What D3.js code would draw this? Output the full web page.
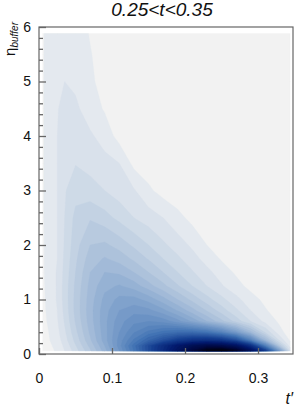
<!DOCTYPE html>
<html>
<head>
<meta charset="utf-8">
<style>
body { margin: 0; background: #fff; }
svg text { font-family: "Liberation Sans", Arial, sans-serif; }
</style>
</head>
<body>
<div id="chart"></div>
<script src="https://d3js.org/d3.v7.min.js"></script>
<script>

// bin centres of the grid (t' columns, eta rows, bottom to top)
var tPrime = [0.005, 0.015, 0.025, 0.035, 0.05, 0.07, 0.09, 0.11, 0.13, 0.15,
              0.17, 0.19, 0.21, 0.23, 0.25, 0.27, 0.29, 0.31, 0.33, 0.344];
var etaRows = [0.06, 0.15, 0.25, 0.4, 0.6, 0.8, 1.0, 1.25, 1.5, 1.75,
               2.0, 2.5, 3.0, 3.5, 4.0, 4.5, 5.0, 5.5, 5.88];

// density in contour-level units (0..40), one row per eta value
var density = [
  [0.3, 0.7, 1.2, 2.0, 3.5, 5.8, 8.5, 12.0, 16.0, 21.0, 26.0, 31.0, 35.5, 39.0, 40.0, 37.5, 32.0, 23.0, 11.0, 3.0],
  [0.35, 0.85, 1.35, 2.2, 3.9, 6.3, 9.0, 12.5, 16.5, 21.0, 25.5, 29.5, 32.5, 34.0, 33.5, 31.0, 25.0, 15.0, 5.5, 1.5],
  [0.4, 1.0, 1.5, 2.5, 4.3, 6.8, 9.5, 12.4, 15.2, 18.0, 20.5, 23.0, 24.5, 25.0, 24.0, 21.0, 15.0, 8.0, 2.8, 0.9],
  [0.5, 1.1, 1.7, 2.8, 4.7, 7.2, 9.6, 12.0, 13.9, 15.3, 16.4, 17.0, 17.0, 16.2, 14.3, 11.2, 7.5, 3.9, 1.3, 0.5],
  [0.6, 1.3, 1.9, 3.1, 5.1, 7.5, 9.7, 11.6, 12.7, 13.0, 12.6, 11.4, 9.8, 8.0, 6.3, 4.6, 3.0, 1.7, 0.8, 0.3],
  [0.7, 1.4, 2.0, 3.3, 5.3, 7.6, 9.6, 11.0, 11.6, 11.3, 10.3, 8.9, 7.4, 5.9, 4.5, 3.2, 2.0, 1.1, 0.45, 0.15],
  [0.75, 1.45, 2.1, 3.4, 5.3, 7.5, 9.3, 10.3, 10.4, 9.6, 8.4, 7.0, 5.7, 4.4, 3.3, 2.3, 1.4, 0.75, 0.3, 0.1],
  [0.8, 1.5, 2.1, 3.4, 5.2, 7.3, 8.7, 9.1, 8.5, 7.4, 6.3, 5.1, 4.0, 3.0, 2.1, 1.35, 0.7, 0.3, 0.12, 0.05],
  [0.85, 1.5, 2.1, 3.3, 5.0, 7.0, 8.0, 7.8, 7.0, 6.0, 5.0, 4.0, 3.1, 2.3, 1.5, 0.85, 0.45, 0.2, 0.08, 0.03],
  [0.85, 1.5, 2.0, 3.2, 4.8, 6.5, 7.1, 6.6, 5.8, 4.9, 4.0, 3.2, 2.4, 1.6, 0.9, 0.5, 0.25, 0.12, 0.05, 0.02],
  [0.85, 1.5, 2.0, 3.1, 4.6, 6.0, 6.2, 5.6, 4.8, 4.0, 3.2, 2.5, 1.8, 1.0, 0.55, 0.3, 0.15, 0.07, 0.03, 0.01],
  [0.9, 1.5, 2.0, 3.0, 4.3, 4.9, 4.4, 3.7, 3.0, 2.5, 2.0, 1.3, 0.7, 0.4, 0.22, 0.12, 0.06, 0.03, 0.01, 0],
  [0.9, 1.5, 2.0, 2.9, 3.6, 3.4, 3.0, 2.5, 2.1, 1.2, 0.6, 0.35, 0.2, 0.12, 0.07, 0.04, 0.02, 0.01, 0, 0],
  [0.9, 1.5, 2.0, 2.7, 2.95, 2.65, 2.3, 2.0, 0.7, 0.4, 0.25, 0.15, 0.09, 0.05, 0.03, 0.02, 0.01, 0, 0, 0],
  [0.9, 1.5, 2.0, 2.5, 2.6, 2.15, 1.6, 0.6, 0.35, 0.22, 0.14, 0.08, 0.05, 0.03, 0.02, 0.01, 0, 0, 0, 0],
  [0.9, 1.5, 1.95, 2.25, 2.2, 1.5, 0.9, 0.55, 0.35, 0.22, 0.13, 0.08, 0.05, 0.03, 0.01, 0, 0, 0, 0, 0],
  [0.9, 1.5, 1.85, 2.0, 1.8, 1.15, 0.7, 0.45, 0.3, 0.18, 0.11, 0.07, 0.04, 0.02, 0.01, 0, 0, 0, 0, 0],
  [0.9, 1.45, 1.7, 1.75, 1.55, 1.05, 0.65, 0.42, 0.27, 0.17, 0.1, 0.06, 0.03, 0.02, 0.01, 0, 0, 0, 0, 0],
  [0.9, 1.4, 1.6, 1.6, 1.4, 0.95, 0.6, 0.4, 0.25, 0.15, 0.1, 0.05, 0.03, 0.02, 0.01, 0, 0, 0, 0, 0]
];

var xTicks = [0, 0.1, 0.2, 0.3];
var yTicks = [0, 1, 2, 3, 4, 5, 6];
var title = "0.25<t<0.35";

var width = 294,
    height = 407;

var frame = { left: 39, right: 293, top: 27, bottom: 354 };

var svg = d3.select("#chart")
    .append("svg")
    .attr("width", width)
    .attr("height", height);

var x = d3.scaleLinear()
    .domain([0, 0.1])
    .range([frame.left, frame.left + 73]);

var y = d3.scaleLinear()
    .domain([0, 6])
    .range([frame.bottom, frame.top]);

// grid index -> data value (the bins are not evenly spaced)
var colToT = d3.scaleLinear().domain(d3.range(tPrime.length)).range(tPrime).clamp(true);
var rowToEta = d3.scaleLinear().domain(d3.range(etaRows.length)).range(etaRows).clamp(true);

var nx = tPrime.length,
    ny = etaRows.length;

var values = [];
density.forEach(function(row) { row.forEach(function(v) { values.push(v); }); });

var levels = d3.range(0, 41);

var color = d3.scaleLinear()
    .domain([0, 1, 4, 10, 16, 22, 28, 34, 40])
    .range(["#f2f2f2", "#e4e9ef", "#c3d2e3", "#80a2cc", "#4273b4",
            "#163f91", "#031c70", "#000a45", "#000000"])
    .interpolate(d3.interpolateRgb);

var contours = d3.contours()
    .size([nx, ny])
    .thresholds(levels)(values);

var project = d3.geoTransform({
  point: function(px, py) {
    this.stream.point(x(colToT(px - 0.5)), y(rowToEta(py - 0.5)));
  }
});

svg.append("g")
    .selectAll("path")
    .data(contours)
    .enter().append("path")
    .attr("d", d3.geoPath(project))
    .attr("fill", function(d) { return color(d.value); })
    .attr("stroke", function(d) { return color(d.value); })
    .attr("stroke-width", 0.3);

// axes, ticks drawn inside the frame
var yMajor = d3.axisLeft(y)
    .tickValues(yTicks)
    .tickSize(-7)
    .tickPadding(8)
    .tickFormat(d3.format("d"));

var yMinor = d3.axisLeft(y)
    .tickValues(d3.range(0, 6.01, 0.2).filter(function(v) { return Math.abs(v - Math.round(v)) > 0.01; }))
    .tickSize(-4)
    .tickFormat("");

var xMajor = d3.axisBottom(x)
    .tickValues(xTicks)
    .tickSize(-6)
    .tickPadding(19)
    .tickFormat(function(d) { return d === 0 ? "0" : d3.format(".1f")(d); });

svg.append("g")
    .attr("transform", "translate(" + frame.left + ",0)")
    .call(yMinor);

svg.append("g")
    .attr("transform", "translate(" + frame.left + ",0)")
    .call(yMajor);

svg.append("g")
    .attr("transform", "translate(0," + frame.bottom + ")")
    .call(xMajor);

svg.selectAll(".domain").remove();
svg.selectAll(".tick line").attr("stroke", "#666").attr("stroke-width", 1.3);
svg.selectAll(".tick text")
    .attr("font-size", 14)
    .attr("font-family", "Liberation Sans, Arial, sans-serif")
    .attr("fill", "#111");

svg.append("rect")
    .attr("x", frame.left)
    .attr("y", frame.top)
    .attr("width", frame.right - frame.left)
    .attr("height", frame.bottom - frame.top)
    .attr("fill", "none")
    .attr("stroke", "#666")
    .attr("stroke-width", 1.2);

svg.append("text")
    .attr("x", 162)
    .attr("y", 16)
    .attr("text-anchor", "middle")
    .attr("font-size", 19)
    .attr("font-style", "italic")
    .attr("fill", "#111")
    .text(title);

var yTitle = svg.append("text")
    .attr("transform", "translate(15,22) rotate(-90)")
    .attr("text-anchor", "end")
    .attr("fill", "#111");
yTitle.append("tspan").attr("font-size", 15).text("η");
yTitle.append("tspan")
    .attr("font-size", 10)
    .attr("font-style", "italic")
    .attr("dy", 3)
    .text("buffer");

svg.append("text")
    .attr("x", 293)
    .attr("y", 404)
    .attr("text-anchor", "end")
    .attr("font-size", 16)
    .attr("font-style", "italic")
    .attr("fill", "#111")
    .text("t\u2032");

</script>
</body>
</html>
